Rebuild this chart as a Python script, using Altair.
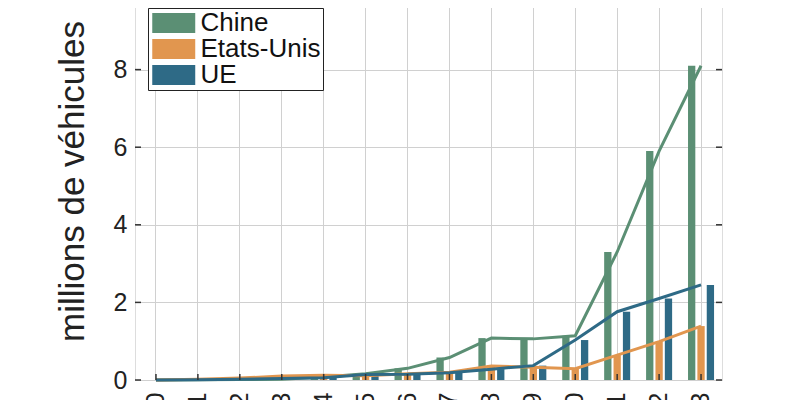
import altair as alt
import pandas as pd

years = ["2010", "2011", "2012", "2013", "2014", "2015", "2016",
         "2017", "2018", "2019", "2020", "2021", "2022", "2023"]
series = ["Chine", "Etats-Unis", "UE"]
chine = [0.0, 0.005, 0.01, 0.02, 0.08, 0.16, 0.30, 0.58, 1.08, 1.06, 1.14, 3.3, 5.9, 8.1]
etats_unis = [0.0, 0.02, 0.05, 0.10, 0.12, 0.11, 0.16, 0.20, 0.36, 0.33, 0.29, 0.64, 0.99, 1.39]
ue = [0.0, 0.005, 0.02, 0.04, 0.06, 0.14, 0.15, 0.19, 0.28, 0.37, 1.03, 1.76, 2.10, 2.45]
colors = ["#5b8f74", "#e1964f", "#2e6a86"]
y_ticks = [0, 2, 4, 6, 8, 10]

rows = []
for name, vals in zip(series, [chine, etats_unis, ue]):
    for yr, v in zip(years, vals):
        rows.append({"annee": yr, "serie": name, "valeur": v})
df = pd.DataFrame(rows)
yt_df = pd.DataFrame({"valeur": y_ticks})
yr_df = pd.DataFrame({"annee": years})

W, H = 587, 388
FONT = "Liberation Sans"
AX = "#333333"

x_enc = alt.X(
    "annee:N", sort=years, title=None,
    scale=alt.Scale(paddingInner=0.33, paddingOuter=0.165),
    axis=alt.Axis(labelAngle=270, labelPadding=12, ticks=False, domain=False,
                  grid=True, gridColor="#d0d0d0", gridWidth=1, bandPosition=0.5,
                  labelFontSize=25, labelColor="#222222", labelFont=FONT),
)
y_enc = alt.Y(
    "valeur:Q", title="millions de véhicules",
    scale=alt.Scale(domain=[0, 10], nice=False),
    axis=alt.Axis(values=y_ticks, grid=True, gridColor="#d0d0d0", gridWidth=1,
                  ticks=False, domain=False, labelPadding=8, titlePadding=9,
                  titleY=189,
                  labelFontSize=25, labelColor="#222222", labelFont=FONT,
                  titleFontSize=35, titleFontWeight="normal", titleColor="#222222",
                  titleFont=FONT),
)
color_scale = alt.Scale(domain=series, range=colors)

bars = alt.Chart(df).mark_bar().encode(
    x=x_enc,
    xOffset=alt.XOffset("serie:N", sort=series,
                        scale=alt.Scale(paddingInner=0.22, paddingOuter=0.11)),
    y=y_enc,
    color=alt.Color("serie:N", scale=color_scale, sort=series,
                    legend=alt.Legend(
                        title=None, orient="none", legendX=13, legendY=16,
                        symbolType="M-1,-0.94L3,-0.94L3,0.94L-1,0.94Z",
                        symbolSize=462, symbolStrokeWidth=0, symbolOpacity=1,
                        labelFontSize=26, labelFont=FONT, labelColor="#111111",
                        labelOffset=24.5, rowPadding=0, padding=2,
                        strokeColor="#222222", fillColor="white",
                        cornerRadius=0)),
)

lines = alt.Chart(df).mark_line(strokeWidth=3).encode(
    x=x_enc,
    y=y_enc,
    color=alt.Color("serie:N", scale=color_scale, sort=series),
)

left_ticks = alt.Chart(yt_df).mark_rule(color=AX, strokeWidth=1.5).encode(
    y=y_enc, x=alt.value(0), x2=alt.value(6))
right_ticks = alt.Chart(yt_df).mark_rule(color=AX, strokeWidth=1.5).encode(
    y=y_enc, x=alt.value(W), x2=alt.value(W - 6))
bottom_ticks = alt.Chart(yr_df).mark_rule(color=AX, strokeWidth=1.5).encode(
    x=x_enc, y=alt.value(H), y2=alt.value(H - 6))

chart = alt.layer(bars, lines, left_ticks, right_ticks, bottom_ticks).properties(
    width=W, height=H,
    autosize=alt.AutoSizeParams(type="none"),
    padding={"left": 127, "top": -16, "right": 70, "bottom": 40},
).configure_view(
    stroke=AX, strokeWidth=1.5
).configure(background="white")

chart.save("out.html", embed_options={"renderer": "svg", "actions": False})
